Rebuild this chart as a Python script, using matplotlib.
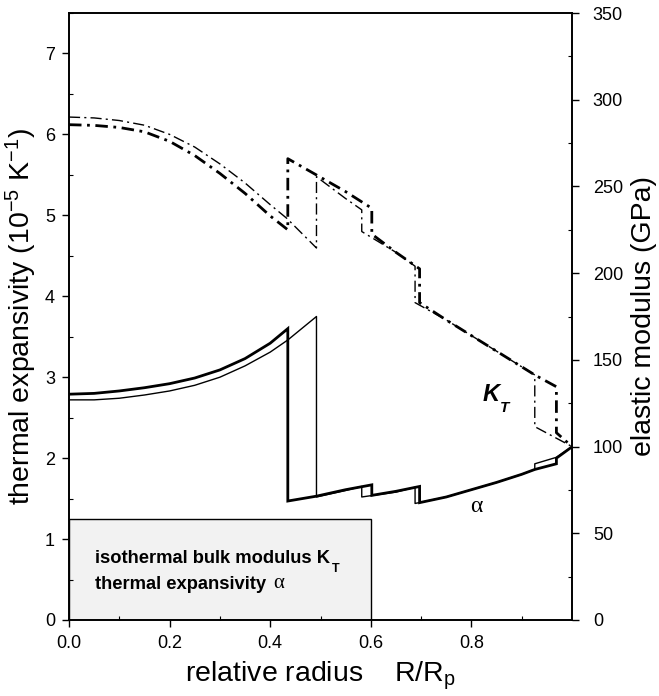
import matplotlib
matplotlib.use("Agg")
import matplotlib.pyplot as plt
from matplotlib.ticker import MultipleLocator, FixedLocator
from matplotlib.patches import Rectangle

plt.rcParams['font.family'] = ['Liberation Sans', 'DejaVu Sans']
plt.rcParams['mathtext.fontset'] = 'custom'
plt.rcParams['mathtext.rm'] = 'Liberation Sans'
plt.rcParams['mathtext.it'] = 'Liberation Sans:italic'
plt.rcParams['mathtext.bf'] = 'Liberation Sans:bold'
plt.rcParams['lines.scale_dashes'] = False

# ---- data ----
# thermal expansivity alpha (1e-5 /K), thick model
alpha_thick_r = [0.0, 0.05, 0.1, 0.15, 0.2, 0.25, 0.3, 0.35, 0.4, 0.435, 0.435,
                 0.492, 0.55, 0.602, 0.602, 0.65, 0.697, 0.697, 0.75, 0.8, 0.85,
                 0.9, 0.926, 0.969, 0.969, 1.0]
alpha_thick = [2.79, 2.80, 2.83, 2.87, 2.92, 2.99, 3.09, 3.23, 3.42, 3.60, 1.47,
               1.53, 1.61, 1.67, 1.54, 1.59, 1.65, 1.45, 1.52, 1.61, 1.70,
               1.80, 1.86, 1.93, 2.00, 2.14]
# thin model
alpha_thin_r = [0.0, 0.05, 0.1, 0.15, 0.2, 0.25, 0.3, 0.35, 0.4, 0.435, 0.492,
                0.492, 0.55, 0.582, 0.582, 0.65, 0.688, 0.688, 0.75, 0.8, 0.85,
                0.9, 0.926, 0.926, 0.969, 1.0]
alpha_thin = [2.72, 2.72, 2.74, 2.78, 2.83, 2.90, 3.00, 3.14, 3.31, 3.46, 3.75,
              1.52, 1.60, 1.65, 1.52, 1.58, 1.64, 1.44, 1.52, 1.61, 1.70,
              1.80, 1.86, 1.93, 2.01, 2.14]

# isothermal bulk modulus K_T (GPa)
kt_thick_r = [0.0, 0.05, 0.1, 0.15, 0.2, 0.25, 0.3, 0.35, 0.4, 0.435, 0.435,
              0.492, 0.55, 0.602, 0.602, 0.65, 0.697, 0.697, 0.75, 0.8, 0.85,
              0.9, 0.926, 0.969, 0.969, 1.0]
kt_thick = [285.6, 285.2, 284.0, 281.5, 276.0, 267.8, 257.5, 246.0, 233.0, 225.0, 266.0,
            256.6, 247.0, 237.4, 222.5, 212.0, 202.5, 183.0, 173.0, 164.0, 155.0,
            146.0, 141.3, 134.5, 108.0, 100.0]
kt_thin_r = [0.0, 0.05, 0.1, 0.15, 0.2, 0.25, 0.3, 0.35, 0.4, 0.433, 0.492,
             0.492, 0.55, 0.582, 0.582, 0.65, 0.688, 0.688, 0.75, 0.8, 0.85,
             0.9, 0.926, 0.926, 1.0]
kt_thin = [290.0, 289.5, 288.0, 285.3, 280.0, 272.7, 263.0, 252.0, 239.5, 231.6, 214.5,
           255.6, 243.0, 236.5, 224.0, 212.0, 204.0, 183.0, 173.0, 164.0, 155.0,
           146.0, 141.3, 111.5, 100.0]

xticks = [0.0, 0.2, 0.4, 0.6, 0.8]
xticklabels = ['0.0', '0.2', '0.4', '0.6', '0.8']
left_ticks = [0, 1, 2, 3, 4, 5, 6, 7]
right_ticks = [0, 50, 100, 150, 200, 250, 300, 350]

SERIF = ['Liberation Serif', 'DejaVu Serif']

# ---- figure ----
fig = plt.figure(figsize=(6.59, 6.96), dpi=100)
ax = fig.add_axes([69/659, 1 - 620/696, (572-69)/659, (620-13)/696])
ax2 = ax.twinx()

ax.set_xlim(0, 1.0)
ax.set_ylim(0, 7.5)
ax2.set_ylim(0, 350)

# legend box
ax.add_patch(Rectangle((0, 0), 0.6, 1.25, facecolor='#f2f2f2', edgecolor='black',
                       linewidth=1.0, zorder=1))
t1 = ax.text(0.052, 0.70, 'isothermal bulk modulus K', fontsize=13.2,
             fontweight='bold', va='baseline', ha='left')
ax.annotate('T', xy=(1, 0), xycoords=t1, xytext=(1, -3), textcoords='offset points',
            fontsize=9, fontweight='bold', ha='left', va='baseline')
t2 = ax.text(0.052, 0.385, 'thermal expansivity ', fontsize=13.2,
             fontweight='bold', va='baseline', ha='left')
ax.annotate('α', xy=(1, 0), xycoords=t2, xytext=(1, 0), textcoords='offset points',
            fontsize=15, family=SERIF, ha='left', va='bottom')

# alpha curves
ax.plot(alpha_thick_r, alpha_thick, color='black', lw=2.0, solid_joinstyle='miter', zorder=3)
ax.plot(alpha_thin_r, alpha_thin, color='black', lw=1.0, zorder=3)

# K_T curves
l1, = ax2.plot(kt_thick_r, kt_thick, color='black', lw=2.0)
l1.set_dashes((9, 4, 2, 4))
l2, = ax2.plot(kt_thin_r, kt_thin, color='black', lw=1.0)
l2.set_dashes((8, 3, 1.5, 3))

tk = ax2.text(0.823, 126, 'K', fontsize=17, style='italic', fontweight='bold',
              ha='left', va='baseline')
ax2.annotate('T', xy=(1, 0), xycoords=tk, xytext=(0, -4), textcoords='offset points',
             fontsize=11, style='italic', fontweight='bold', ha='left', va='baseline')
ax.text(0.81, 1.40, 'α', fontsize=17, ha='center', va='center', family=SERIF)

# ticks
ax.xaxis.set_major_locator(FixedLocator(xticks))
ax.set_xticklabels(xticklabels)
ax.xaxis.set_minor_locator(FixedLocator([0.1, 0.3, 0.5, 0.7, 0.9]))
ax.yaxis.set_major_locator(FixedLocator(left_ticks))
ax.yaxis.set_minor_locator(MultipleLocator(0.5))
ax2.yaxis.set_major_locator(FixedLocator(right_ticks))
ax2.yaxis.set_minor_locator(MultipleLocator(25))

ax.tick_params(axis='x', which='major', direction='out', length=5, width=1,
               labelsize=13, pad=6)
ax.tick_params(axis='y', which='major', direction='out', length=5, width=1,
               labelsize=13, pad=5)
ax.tick_params(axis='both', which='minor', direction='in', length=3, width=0.8)
ax2.tick_params(axis='y', which='major', direction='out', length=5, width=1,
                labelsize=13, pad=10)
ax2.tick_params(axis='y', which='minor', direction='in', length=3, width=0.8)

for a in (ax, ax2):
    for s in a.spines.values():
        s.set_linewidth(1.2)

ax.set_ylabel('thermal expansivity (10$^{-5}$ K$^{-1}$)', fontsize=20.5, labelpad=4)
ax2.set_ylabel('elastic modulus (GPa)', fontsize=20.5, labelpad=6)
ax.set_xlabel('relative radius    R/R$_\\mathregular{p}$', fontsize=20.5, labelpad=5)

fig.savefig('out.png', dpi=100)
